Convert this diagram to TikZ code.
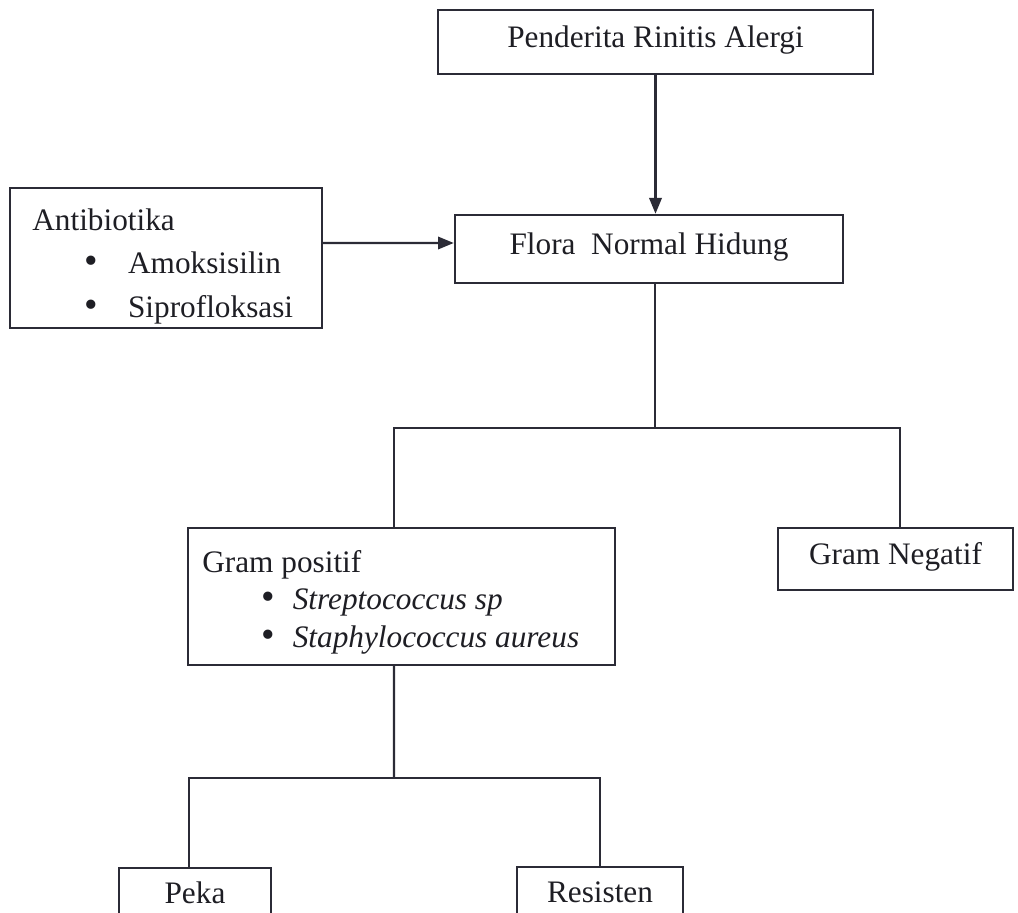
\documentclass[tikz,border=0pt]{standalone}
\usepackage{fontspec}
\setmainfont{Liberation Serif}
\usetikzlibrary{arrows.meta,positioning}
\definecolor{ink}{HTML}{2B2B36}
\definecolor{txt}{HTML}{1E1E24}
\tikzset{
  box/.style={draw=ink,line width=1.4pt,rectangle,fill=white,text=txt,inner sep=0pt,
    font=\fontsize{17.8}{24.7}\selectfont,text height=0.7em,text depth=0.1em},
  list/.style={align=left,text=txt,inner sep=0pt,font=\fontsize{17.8}{24.7}\selectfont},
  flow/.style={-{Triangle[length=9pt,width=7pt]},line width=1.4pt,draw=ink},
  link/.style={line width=1.4pt,draw=ink}
}
\newcommand{\itm}[2]{\hspace*{#1}\makebox[#2][l]{\smash{\fontsize{22}{22}\selectfont\textbullet}}}

\begin{document}
\begin{tikzpicture}[x=0.02cm,y=-0.02cm]
  \useasboundingbox (0,0) rectangle (1018,913);
  \clip (0,0) rectangle (1018,913);
  \fill[white] (0,0) rectangle (1018,913);
  % boxes
  \node[box,minimum width=8.7cm,minimum height=1.28cm] (pend) at (655.5,42) {Penderita Rinitis Alergi};
  \node[box,minimum width=7.76cm,minimum height=1.36cm] (flora) at (649,249) {Flora\ \ Normal Hidung};
  \node[box,minimum width=6.24cm,minimum height=2.8cm] (anti) at (166,258) {};
  \node[list,anchor=base west] (antilist) at (32,317)
    {Antibiotika\\ \itm{29.5pt}{25pt}Amoksisilin\\ \itm{29.5pt}{25pt}Siprofloksasi};
  \node[box,minimum width=8.54cm,minimum height=2.74cm] (gpos) at (401.5,596.5) {};
  \node[list,anchor=base west,font=\fontsize{17.8}{21.3}\selectfont] (gposlist) at (202,647)
    {Gram positif\\ \itm{33.5pt}{18pt}\textit{Streptococcus sp}\\ \itm{33.5pt}{18pt}\textit{Staphylococcus aureus}};
  \node[box,minimum width=4.7cm,minimum height=1.24cm] (gneg) at (895.5,559) {Gram Negatif};
  \node[box,minimum width=3.04cm,minimum height=1.2cm] (peka) at (195,898) {Peka};
  \node[box,minimum width=3.32cm,minimum height=1.2cm] (resi) at (600,897) {Resisten};
  % connectors
  \draw[flow] (pend) -- (pend |- flora.north);
  \draw[flow] ([yshift=3mm]anti.east) -- ([yshift=1.2mm]flora.west);
  \coordinate (split) at (655,428);
  \draw[link] (flora.south -| split) -- (split);
  \draw[link] ([xshift=-1.5mm]gpos.north) |- (split) -| ([xshift=0.9mm]gneg.north);
  \coordinate (split2) at (394,778);
  \draw[link] ([xshift=-1.5mm]gpos.south) -- (split2);
  \draw[link] ([xshift=-1.2mm]peka.north) |- (split2) -| (resi.north);
\end{tikzpicture}
\end{document}
